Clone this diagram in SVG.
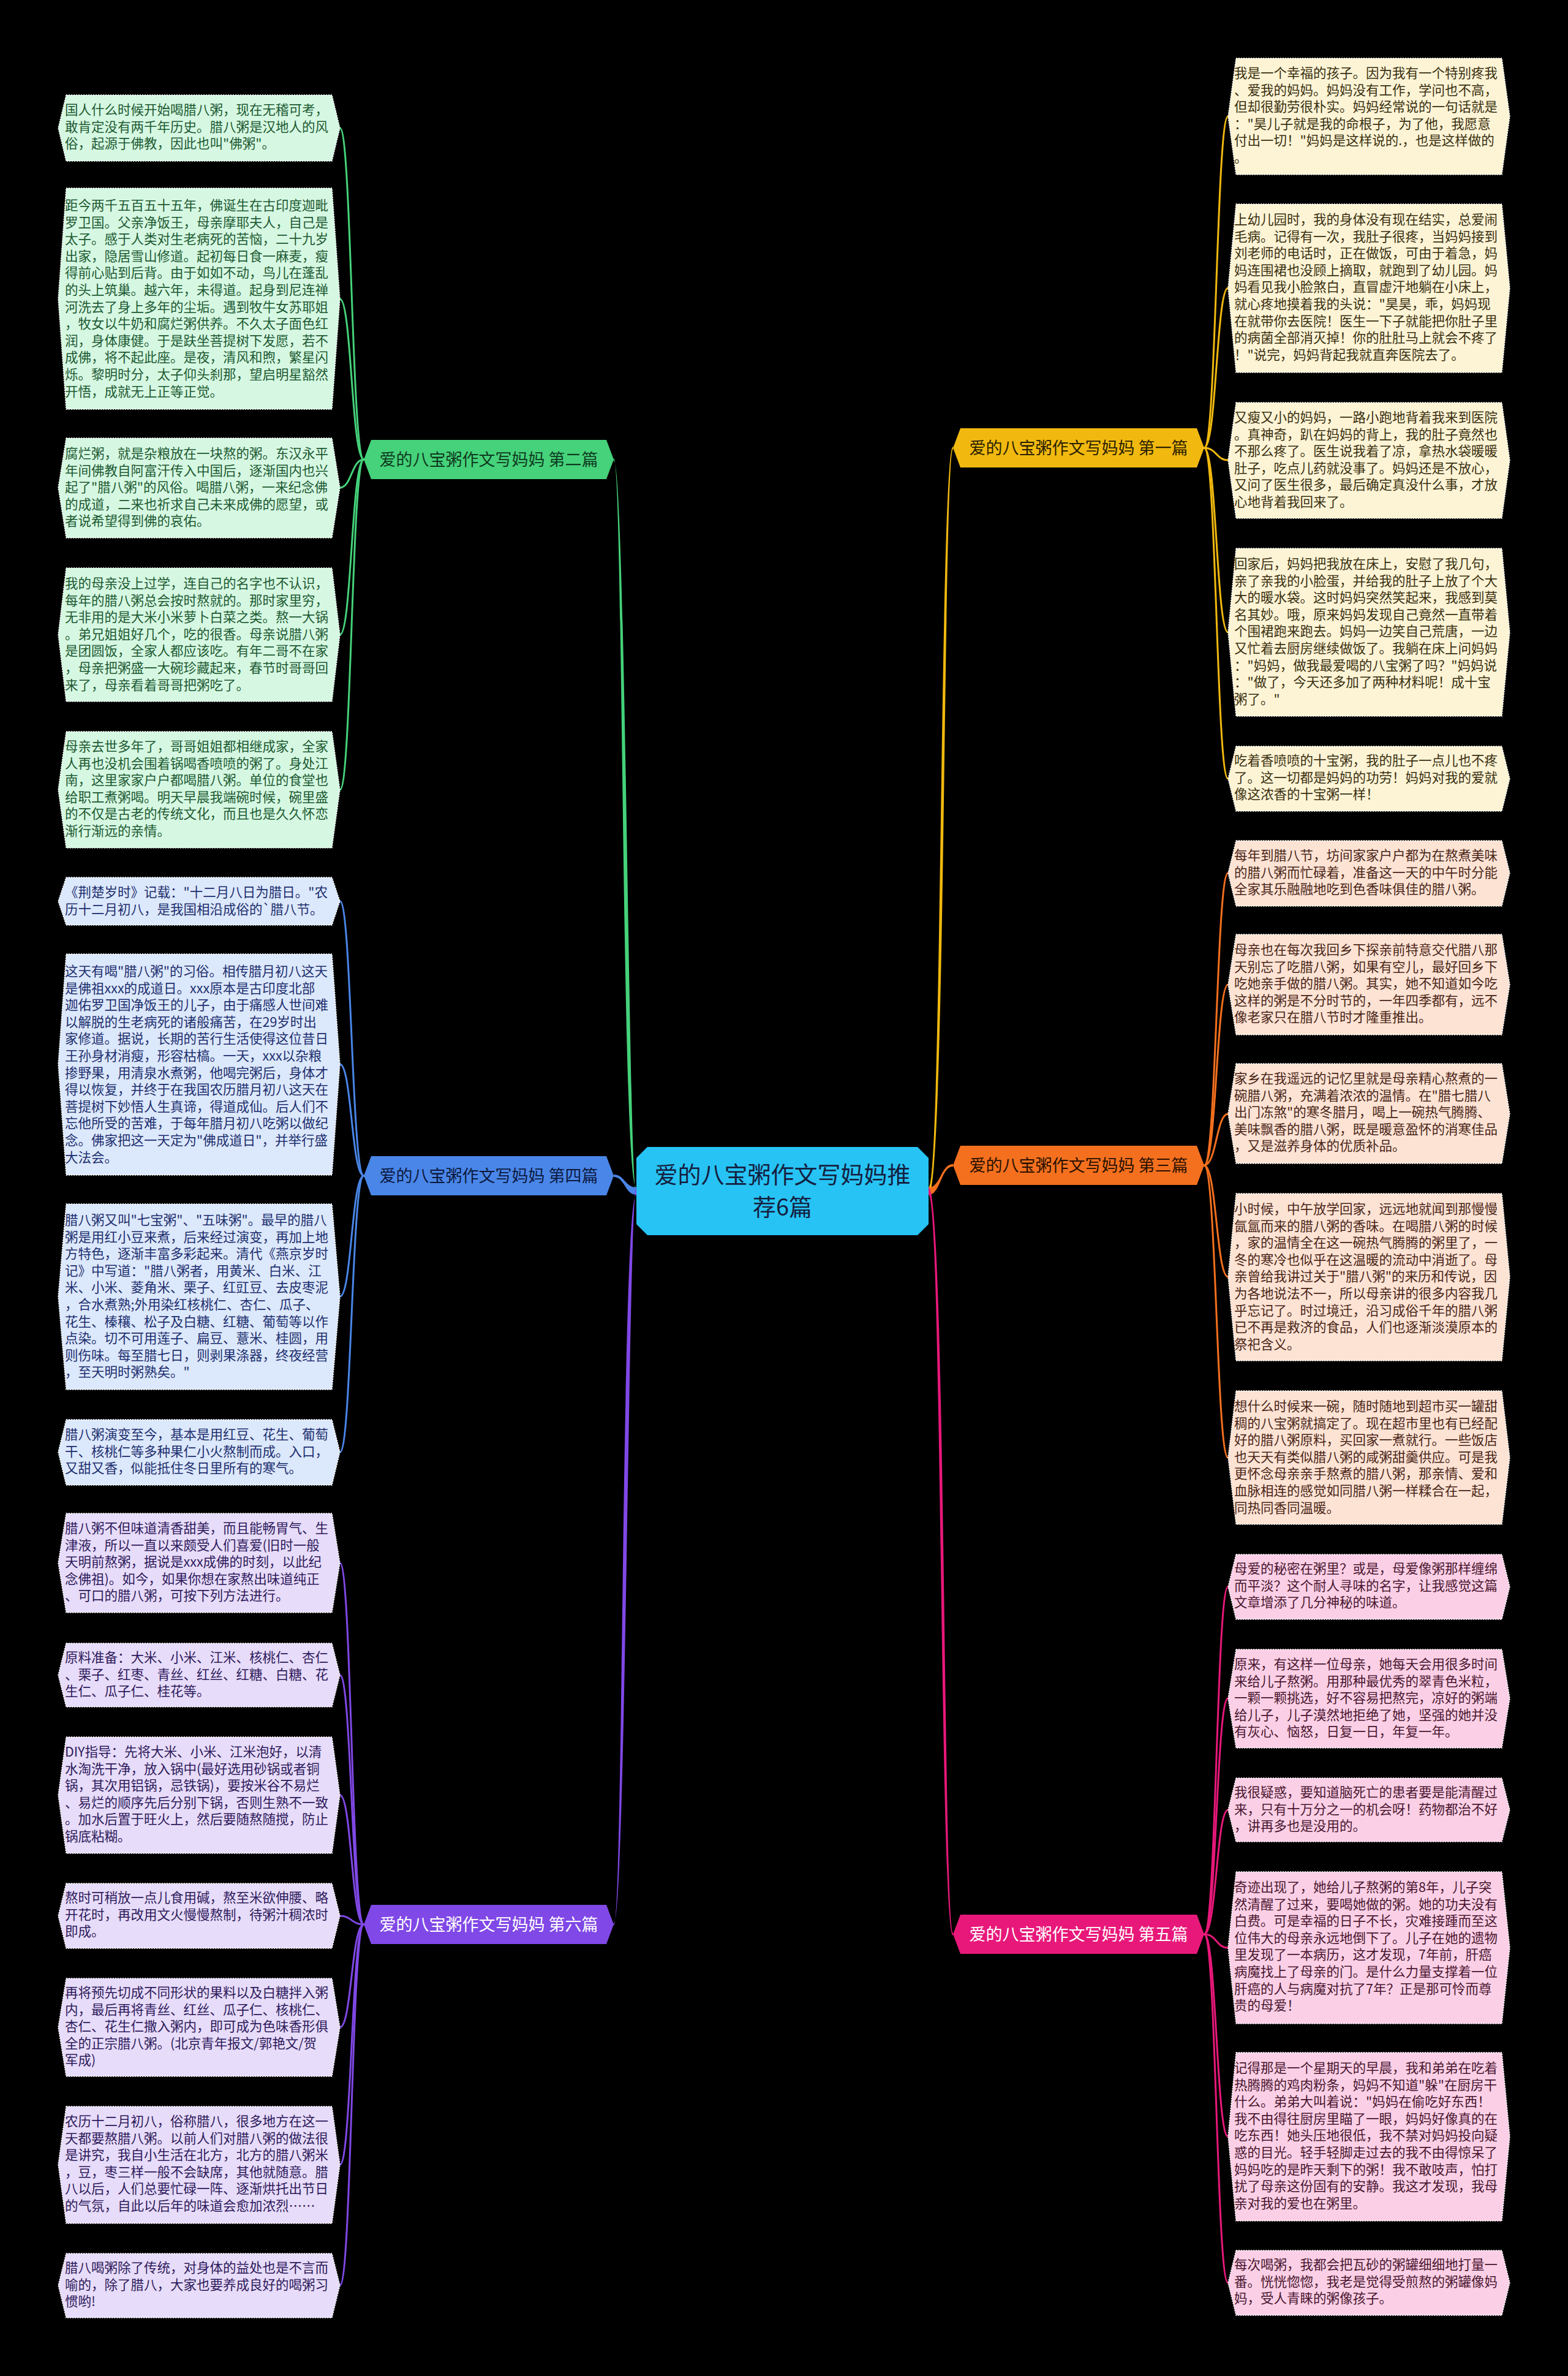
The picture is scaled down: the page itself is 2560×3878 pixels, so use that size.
<svg xmlns="http://www.w3.org/2000/svg" width="2560" height="3878" viewBox="0 0 2560 3878">
<style>
.t{font-family:"Noto Sans CJK SC","Noto Sans",sans-serif;font-size:21.5px}
.tg{fill:#1d5a33}.tb{fill:#1d2f6f}.tp{fill:#2e1a5c}.ty{fill:#3a3010}.to{fill:#4a2618}.tk{fill:#4a1630}
.lg{fill:#d6f8e2}.lb{fill:#dce8fb}.lp{fill:#e7dcf9}.ly{fill:#fdf4d6}.lo{fill:#fde3d4}.lk{fill:#fbd0e6}
.leaf{stroke:#ffffff;stroke-width:1.5;stroke-dasharray:2 2}
.c{fill:none;stroke-linecap:round}
.cg{stroke:#45d27a}.cb{stroke:#4a86e8}.cp{stroke:#8048e6}.cy{stroke:#f1b90f}.co{stroke:#f4701e}.ck{stroke:#e8187a}
.fg{fill:#45d27a}.fb{fill:#4a86e8}.fp{fill:#8048e6}.fy{fill:#f1b90f}.fo{fill:#f4701e}.fk{fill:#e8187a}
.tt{font-family:"Noto Sans CJK SC","Noto Sans",sans-serif;font-size:27px;text-anchor:middle}
.ct{font-family:"Noto Sans CJK SC","Noto Sans",sans-serif;font-size:38px;text-anchor:middle;fill:#142040}
</style>
<rect x="0" y="0" width="2560" height="3878" fill="#000000"/>
<g id="connectors">
<path class="fg" d="M1039 1938 C1014 1938 1018 750 1002 748 L1002 752 C1022 752 1026 1950 1039 1950 Z"/>
<path class="fb" d="M1039 1938 C1020 1938 1020 1917 1002 1917 L1002 1921 C1020 1921 1020 1950 1039 1950 Z"/>
<path class="fp" d="M1039 1938 C1026 1938 1022 3141 1002 3139 L1002 3143 C1018 3143 1014 1950 1039 1950 Z"/>
<path class="fy" d="M1516 1938 C1538 1938 1534 731 1556 729 L1556 733 C1540 733 1544 1950 1516 1950 Z"/>
<path class="fo" d="M1516 1938 C1536 1938 1536 1900 1556 1900 L1556 1904 C1536 1904 1536 1950 1516 1950 Z"/>
<path class="fk" d="M1516 1938 C1544 1938 1540 3157 1556 3155 L1556 3159 C1534 3159 1538 1950 1516 1950 Z"/>
<g stroke-width="3">
<path class="c cg" d="M594 750 C574 750 574 209 555 209"/>
<path class="c cg" d="M594 750 C574 750 574 488 555 488"/>
<path class="c cg" d="M594 750 C574 750 574 796 555 796"/>
<path class="c cg" d="M594 750 C574 750 574 1036 555 1036"/>
<path class="c cg" d="M594 750 C574 750 574 1289 555 1289"/>
<path class="c cb" d="M594 1919 C574 1919 574 1471 555 1471"/>
<path class="c cb" d="M594 1919 C574 1919 574 1737 555 1737"/>
<path class="c cb" d="M594 1919 C574 1919 574 2116 555 2116"/>
<path class="c cb" d="M594 1919 C574 1919 574 2370 555 2370"/>
<path class="c cp" d="M594 3141 C574 3141 574 2551 555 2551"/>
<path class="c cp" d="M594 3141 C574 3141 574 2734 555 2734"/>
<path class="c cp" d="M594 3141 C574 3141 574 2930 555 2930"/>
<path class="c cp" d="M594 3141 C574 3141 574 3127 555 3127"/>
<path class="c cp" d="M594 3141 C574 3141 574 3309 555 3309"/>
<path class="c cp" d="M594 3141 C574 3141 574 3533 555 3533"/>
<path class="c cp" d="M594 3141 C574 3141 574 3730 555 3730"/>
<path class="c cy" d="M1966 731 C1986 731 1986 190 2005 190"/>
<path class="c cy" d="M1966 731 C1986 731 1986 470 2005 470"/>
<path class="c cy" d="M1966 731 C1986 731 1986 751 2005 751"/>
<path class="c cy" d="M1966 731 C1986 731 1986 1032 2005 1032"/>
<path class="c cy" d="M1966 731 C1986 731 1986 1271 2005 1271"/>
<path class="c co" d="M1966 1902 C1986 1902 1986 1425 2005 1425"/>
<path class="c co" d="M1966 1902 C1986 1902 1986 1607 2005 1607"/>
<path class="c co" d="M1966 1902 C1986 1902 1986 1818 2005 1818"/>
<path class="c co" d="M1966 1902 C1986 1902 1986 2084 2005 2084"/>
<path class="c co" d="M1966 1902 C1986 1902 1986 2379 2005 2379"/>
<path class="c ck" d="M1966 3157 C1986 3157 1986 2590 2005 2590"/>
<path class="c ck" d="M1966 3157 C1986 3157 1986 2772 2005 2772"/>
<path class="c ck" d="M1966 3157 C1986 3157 1986 2954 2005 2954"/>
<path class="c ck" d="M1966 3157 C1986 3157 1986 3179 2005 3179"/>
<path class="c ck" d="M1966 3157 C1986 3157 1986 3487 2005 3487"/>
<path class="c ck" d="M1966 3157 C1986 3157 1986 3726 2005 3726"/>
</g>
</g>

<g id="center">
<polygon points="1057,1872 1498,1872 1516,1890 1516,1998 1498,2016 1057,2016 1039,1998 1039,1890" fill="#27c3f4"/>
<text class="ct" x="1277.5" y="1931">爱的八宝粥作文写妈妈推</text>
<text class="ct" x="1277.5" y="1984">荐6篇</text>
</g>

<g id="topic1"><polygon points="1568,699 1954,699 1966,731 1954,763 1568,763 1556,731" fill="#f1b90f"/><text class="tt" x="1761" y="741" fill="#2a2000">爱的八宝粥作文写妈妈 第一篇</text></g>
<g id="topic2"><polygon points="606,718 990,718 1002,750 990,782 606,782 594,750" fill="#45d27a"/><text class="tt" x="798" y="760" fill="#0f3a1e">爱的八宝粥作文写妈妈 第二篇</text></g>
<g id="topic3"><polygon points="1568,1870 1954,1870 1966,1902 1954,1934 1568,1934 1556,1902" fill="#f4701e"/><text class="tt" x="1761" y="1912" fill="#2a1000">爱的八宝粥作文写妈妈 第三篇</text></g>
<g id="topic4"><polygon points="606,1887 990,1887 1002,1919 990,1951 606,1951 594,1919" fill="#4a86e8"/><text class="tt" x="798" y="1929" fill="#0c1a40">爱的八宝粥作文写妈妈 第四篇</text></g>
<g id="topic5"><polygon points="1568,3125 1954,3125 1966,3157 1954,3189 1568,3189 1556,3157" fill="#e8187a"/><text class="tt" x="1761" y="3167" fill="#ffffff">爱的八宝粥作文写妈妈 第五篇</text></g>
<g id="topic6"><polygon points="606,3109 990,3109 1002,3141 990,3173 606,3173 594,3141" fill="#8048e6"/><text class="tt" x="798" y="3151" fill="#ffffff">爱的八宝粥作文写妈妈 第六篇</text></g>

<g id="g1"><polygon class="leaf lg" points="108,155 542,155 555,209 542,263 108,263 95,209"/>
<text class="t tg" x="106" y="187"><tspan x="106">国人什么时候开始喝腊八粥，现在无稽可考，</tspan><tspan x="106" dy="27.6">敢肯定没有两千年历史。腊八粥是汉地人的风</tspan><tspan x="106" dy="27.6">俗，起源于佛教，因此也叫"佛粥"。</tspan></text></g>
<g id="g2"><polygon class="leaf lg" points="108,307 542,307 555,488 542,668 108,668 95,488"/>
<text class="t tg" x="106" y="343"><tspan x="106">距今两千五百五十五年，佛诞生在古印度迦毗</tspan><tspan x="106" dy="27.6">罗卫国。父亲净饭王，母亲摩耶夫人，自己是</tspan><tspan x="106" dy="27.6">太子。感于人类对生老病死的苦恼，二十九岁</tspan><tspan x="106" dy="27.6">出家，隐居雪山修道。起初每日食一麻麦，瘦</tspan><tspan x="106" dy="27.6">得前心贴到后背。由于如如不动，鸟儿在蓬乱</tspan><tspan x="106" dy="27.6">的头上筑巢。越六年，未得道。起身到尼连禅</tspan><tspan x="106" dy="27.6">河洗去了身上多年的尘垢。遇到牧牛女苏耶姐</tspan><tspan x="106" dy="27.6">，牧女以牛奶和腐烂粥供养。不久太子面色红</tspan><tspan x="106" dy="27.6">润，身体康健。于是趺坐菩提树下发愿，若不</tspan><tspan x="106" dy="27.6">成佛，将不起此座。是夜，清风和煦，繁星闪</tspan><tspan x="106" dy="27.6">烁。黎明时分，太子仰头刹那，望启明星豁然</tspan><tspan x="106" dy="27.6">开悟，成就无上正等正觉。</tspan></text></g>
<g id="g3"><polygon class="leaf lg" points="108,715 542,715 555,796 542,878 108,878 95,796"/>
<text class="t tg" x="106" y="748"><tspan x="106">腐烂粥，就是杂粮放在一块熬的粥。东汉永平</tspan><tspan x="106" dy="27.6">年间佛教自阿富汗传入中国后，逐渐国内也兴</tspan><tspan x="106" dy="27.6">起了"腊八粥"的风俗。喝腊八粥，一来纪念佛</tspan><tspan x="106" dy="27.6">的成道，二来也祈求自己未来成佛的愿望，或</tspan><tspan x="106" dy="27.6">者说希望得到佛的哀佑。</tspan></text></g>
<g id="g4"><polygon class="leaf lg" points="108,927 542,927 555,1036 542,1145 108,1145 95,1036"/>
<text class="t tg" x="106" y="960"><tspan x="106">我的母亲没上过学，连自己的名字也不认识，</tspan><tspan x="106" dy="27.6">每年的腊八粥总会按时熬就的。那时家里穷，</tspan><tspan x="106" dy="27.6">无非用的是大米小米萝卜白菜之类。熬一大锅</tspan><tspan x="106" dy="27.6">。弟兄姐姐好几个，吃的很香。母亲说腊八粥</tspan><tspan x="106" dy="27.6">是团圆饭，全家人都应该吃。有年二哥不在家</tspan><tspan x="106" dy="27.6">，母亲把粥盛一大碗珍藏起来，春节时哥哥回</tspan><tspan x="106" dy="27.6">来了，母亲看着哥哥把粥吃了。</tspan></text></g>
<g id="g5"><polygon class="leaf lg" points="108,1194 542,1194 555,1289 542,1384 108,1384 95,1289"/>
<text class="t tg" x="106" y="1226"><tspan x="106">母亲去世多年了，哥哥姐姐都相继成家，全家</tspan><tspan x="106" dy="27.6">人再也没机会围着锅喝香喷喷的粥了。身处江</tspan><tspan x="106" dy="27.6">南，这里家家户户都喝腊八粥。单位的食堂也</tspan><tspan x="106" dy="27.6">给职工煮粥喝。明天早晨我端碗时候，碗里盛</tspan><tspan x="106" dy="27.6">的不仅是古老的传统文化，而且也是久久怀恋</tspan><tspan x="106" dy="27.6">渐行渐远的亲情。</tspan></text></g>

<g id="b1"><polygon class="leaf lb" points="108,1432 542,1432 555,1471 542,1510 108,1510 95,1471"/>
<text class="t tb" x="106" y="1464"><tspan x="106">《荆楚岁时》记载："十二月八日为腊日。"农</tspan><tspan x="106" dy="27.6">历十二月初八，是我国相沿成俗的`腊八节。</tspan></text></g>
<g id="b2"><polygon class="leaf lb" points="108,1557 542,1557 555,1737 542,1918 108,1918 95,1737"/>
<text class="t tb" x="106" y="1593"><tspan x="106">这天有喝"腊八粥"的习俗。相传腊月初八这天</tspan><tspan x="106" dy="27.6">是佛祖xxx的成道日。xxx原本是古印度北部</tspan><tspan x="106" dy="27.6">迦佑罗卫国净饭王的儿子，由于痛感人世间难</tspan><tspan x="106" dy="27.6">以解脱的生老病死的诸般痛苦，在29岁时出</tspan><tspan x="106" dy="27.6">家修道。据说，长期的苦行生活使得这位昔日</tspan><tspan x="106" dy="27.6">王孙身材消瘦，形容枯槁。一天，xxx以杂粮</tspan><tspan x="106" dy="27.6">掺野果，用清泉水煮粥，他喝完粥后，身体才</tspan><tspan x="106" dy="27.6">得以恢复，并终于在我国农历腊月初八这天在</tspan><tspan x="106" dy="27.6">菩提树下妙悟人生真谛，得道成仙。后人们不</tspan><tspan x="106" dy="27.6">忘他所受的苦难，于每年腊月初八吃粥以做纪</tspan><tspan x="106" dy="27.6">念。佛家把这一天定为"佛成道日"，并举行盛</tspan><tspan x="106" dy="27.6">大法会。</tspan></text></g>
<g id="b3"><polygon class="leaf lb" points="108,1965 542,1965 555,2116 542,2268 108,2268 95,2116"/>
<text class="t tb" x="106" y="1999"><tspan x="106">腊八粥又叫"七宝粥"、"五味粥"。最早的腊八</tspan><tspan x="106" dy="27.6">粥是用红小豆来煮，后来经过演变，再加上地</tspan><tspan x="106" dy="27.6">方特色，逐渐丰富多彩起来。清代《燕京岁时</tspan><tspan x="106" dy="27.6">记》中写道："腊八粥者，用黄米、白米、江</tspan><tspan x="106" dy="27.6">米、小米、菱角米、栗子、红豇豆、去皮枣泥</tspan><tspan x="106" dy="27.6">，合水煮熟;外用染红核桃仁、杏仁、瓜子、</tspan><tspan x="106" dy="27.6">花生、榛穰、松子及白糖、红糖、葡萄等以作</tspan><tspan x="106" dy="27.6">点染。切不可用莲子、扁豆、薏米、桂圆，用</tspan><tspan x="106" dy="27.6">则伤味。每至腊七日，则剥果涤器，终夜经营</tspan><tspan x="106" dy="27.6">，至天明时粥熟矣。"</tspan></text></g>
<g id="b4"><polygon class="leaf lb" points="108,2317 542,2317 555,2370 542,2424 108,2424 95,2370"/>
<text class="t tb" x="106" y="2349"><tspan x="106">腊八粥演变至今，基本是用红豆、花生、葡萄</tspan><tspan x="106" dy="27.6">干、核桃仁等多种果仁小火熬制而成。入口，</tspan><tspan x="106" dy="27.6">又甜又香，似能抵住冬日里所有的寒气。</tspan></text></g>

<g id="p1"><polygon class="leaf lp" points="108,2470 542,2470 555,2551 542,2632 108,2632 95,2551"/>
<text class="t tp" x="106" y="2502"><tspan x="106">腊八粥不但味道清香甜美，而且能畅胃气、生</tspan><tspan x="106" dy="27.6">津液，所以一直以来颇受人们喜爱(旧时一般</tspan><tspan x="106" dy="27.6">天明前熬粥，据说是xxx成佛的时刻，以此纪</tspan><tspan x="106" dy="27.6">念佛祖)。如今，如果你想在家熬出味道纯正</tspan><tspan x="106" dy="27.6">、可口的腊八粥，可按下列方法进行。</tspan></text></g>
<g id="p2"><polygon class="leaf lp" points="108,2682 542,2682 555,2734 542,2786 108,2786 95,2734"/>
<text class="t tp" x="106" y="2713"><tspan x="106">原料准备：大米、小米、江米、核桃仁、杏仁</tspan><tspan x="106" dy="27.6">、栗子、红枣、青丝、红丝、红糖、白糖、花</tspan><tspan x="106" dy="27.6">生仁、瓜子仁、桂花等。</tspan></text></g>
<g id="p3"><polygon class="leaf lp" points="108,2835 542,2835 555,2930 542,3025 108,3025 95,2930"/>
<text class="t tp" x="106" y="2867"><tspan x="106">DIY指导：先将大米、小米、江米泡好，以清</tspan><tspan x="106" dy="27.6">水淘洗干净，放入锅中(最好选用砂锅或者铜</tspan><tspan x="106" dy="27.6">锅，其次用铝锅，忌铁锅)，要按米谷不易烂</tspan><tspan x="106" dy="27.6">、易烂的顺序先后分别下锅，否则生熟不一致</tspan><tspan x="106" dy="27.6">。加水后置于旺火上，然后要随熬随搅，防止</tspan><tspan x="106" dy="27.6">锅底粘糊。</tspan></text></g>
<g id="p4"><polygon class="leaf lp" points="108,3074 542,3074 555,3127 542,3180 108,3180 95,3127"/>
<text class="t tp" x="106" y="3105"><tspan x="106">熬时可稍放一点儿食用碱，熬至米欲伸腰、略</tspan><tspan x="106" dy="27.6">开花时，再改用文火慢慢熬制，待粥汁稠浓时</tspan><tspan x="106" dy="27.6">即成。</tspan></text></g>
<g id="p5"><polygon class="leaf lp" points="108,3229 542,3229 555,3309 542,3389 108,3389 95,3309"/>
<text class="t tp" x="106" y="3260"><tspan x="106">再将预先切成不同形状的果料以及白糖拌入粥</tspan><tspan x="106" dy="27.6">内，最后再将青丝、红丝、瓜子仁、核桃仁、</tspan><tspan x="106" dy="27.6">杏仁、花生仁撒入粥内，即可成为色味香形俱</tspan><tspan x="106" dy="27.6">全的正宗腊八粥。(北京青年报文/郭艳文/贺</tspan><tspan x="106" dy="27.6">军成)</tspan></text></g>
<g id="p6"><polygon class="leaf lp" points="108,3438 542,3438 555,3533 542,3629 108,3629 95,3533"/>
<text class="t tp" x="106" y="3470"><tspan x="106">农历十二月初八，俗称腊八，很多地方在这一</tspan><tspan x="106" dy="27.6">天都要熬腊八粥。以前人们对腊八粥的做法很</tspan><tspan x="106" dy="27.6">是讲究，我自小生活在北方，北方的腊八粥米</tspan><tspan x="106" dy="27.6">，豆，枣三样一般不会缺席，其他就随意。腊</tspan><tspan x="106" dy="27.6">八以后，人们总要忙碌一阵、逐渐烘托出节日</tspan><tspan x="106" dy="27.6">的气氛，自此以后年的味道会愈加浓烈……</tspan></text></g>
<g id="p7"><polygon class="leaf lp" points="108,3678 542,3678 555,3730 542,3783 108,3783 95,3730"/>
<text class="t tp" x="106" y="3709"><tspan x="106">腊八喝粥除了传统，对身体的益处也是不言而</tspan><tspan x="106" dy="27.6">喻的，除了腊八，大家也要养成良好的喝粥习</tspan><tspan x="106" dy="27.6">惯哟!</tspan></text></g>

<g id="y1"><polygon class="leaf ly" points="2018,95 2452,95 2465,190 2452,285 2018,285 2005,190"/>
<text class="t ty" x="2015" y="127"><tspan x="2015">我是一个幸福的孩子。因为我有一个特别疼我</tspan><tspan x="2015" dy="27.6">、爱我的妈妈。妈妈没有工作，学问也不高，</tspan><tspan x="2015" dy="27.6">但却很勤劳很朴实。妈妈经常说的一句话就是</tspan><tspan x="2015" dy="27.6">："昊儿子就是我的命根子，为了他，我愿意</tspan><tspan x="2015" dy="27.6">付出一切！"妈妈是这样说的.，也是这样做的</tspan><tspan x="2015" dy="27.6">。</tspan></text></g>
<g id="y2"><polygon class="leaf ly" points="2018,333 2452,333 2465,470 2452,608 2018,608 2005,470"/>
<text class="t ty" x="2015" y="366"><tspan x="2015">上幼儿园时，我的身体没有现在结实，总爱闹</tspan><tspan x="2015" dy="27.6">毛病。记得有一次，我肚子很疼，当妈妈接到</tspan><tspan x="2015" dy="27.6">刘老师的电话时，正在做饭，可由于着急，妈</tspan><tspan x="2015" dy="27.6">妈连围裙也没顾上摘取，就跑到了幼儿园。妈</tspan><tspan x="2015" dy="27.6">妈看见我小脸煞白，直冒虚汗地躺在小床上，</tspan><tspan x="2015" dy="27.6">就心疼地摸着我的头说："昊昊，乖，妈妈现</tspan><tspan x="2015" dy="27.6">在就带你去医院！医生一下子就能把你肚子里</tspan><tspan x="2015" dy="27.6">的病菌全部消灭掉！你的肚肚马上就会不疼了</tspan><tspan x="2015" dy="27.6">！"说完，妈妈背起我就直奔医院去了。</tspan></text></g>
<g id="y3"><polygon class="leaf ly" points="2018,657 2452,657 2465,751 2452,846 2018,846 2005,751"/>
<text class="t ty" x="2015" y="689"><tspan x="2015">又瘦又小的妈妈，一路小跑地背着我来到医院</tspan><tspan x="2015" dy="27.6">。真神奇，趴在妈妈的背上，我的肚子竟然也</tspan><tspan x="2015" dy="27.6">不那么疼了。医生说我着了凉，拿热水袋暖暖</tspan><tspan x="2015" dy="27.6">肚子，吃点儿药就没事了。妈妈还是不放心，</tspan><tspan x="2015" dy="27.6">又问了医生很多，最后确定真没什么事，才放</tspan><tspan x="2015" dy="27.6">心地背着我回来了。</tspan></text></g>
<g id="y4"><polygon class="leaf ly" points="2018,895 2452,895 2465,1032 2452,1169 2018,1169 2005,1032"/>
<text class="t ty" x="2015" y="928"><tspan x="2015">回家后，妈妈把我放在床上，安慰了我几句，</tspan><tspan x="2015" dy="27.6">亲了亲我的小脸蛋，并给我的肚子上放了个大</tspan><tspan x="2015" dy="27.6">大的暖水袋。这时妈妈突然笑起来，我感到莫</tspan><tspan x="2015" dy="27.6">名其妙。哦，原来妈妈发现自己竟然一直带着</tspan><tspan x="2015" dy="27.6">个围裙跑来跑去。妈妈一边笑自己荒唐，一边</tspan><tspan x="2015" dy="27.6">又忙着去厨房继续做饭了。我躺在床上问妈妈</tspan><tspan x="2015" dy="27.6">："妈妈，做我最爱喝的八宝粥了吗？"妈妈说</tspan><tspan x="2015" dy="27.6">："做了，今天还多加了两种材料呢！成十宝</tspan><tspan x="2015" dy="27.6">粥了。"</tspan></text></g>
<g id="y5"><polygon class="leaf ly" points="2018,1218 2452,1218 2465,1271 2452,1324 2018,1324 2005,1271"/>
<text class="t ty" x="2015" y="1249"><tspan x="2015">吃着香喷喷的十宝粥，我的肚子一点儿也不疼</tspan><tspan x="2015" dy="27.6">了。这一切都是妈妈的功劳！妈妈对我的爱就</tspan><tspan x="2015" dy="27.6">像这浓香的十宝粥一样！</tspan></text></g>

<g id="o1"><polygon class="leaf lo" points="2018,1372 2452,1372 2465,1425 2452,1479 2018,1479 2005,1425"/>
<text class="t to" x="2015" y="1404"><tspan x="2015">每年到腊八节，坊间家家户户都为在熬煮美味</tspan><tspan x="2015" dy="27.6">的腊八粥而忙碌着，准备这一天的中午时分能</tspan><tspan x="2015" dy="27.6">全家其乐融融地吃到色香味俱佳的腊八粥。</tspan></text></g>
<g id="o2"><polygon class="leaf lo" points="2018,1525 2452,1525 2465,1607 2452,1689 2018,1689 2005,1607"/>
<text class="t to" x="2015" y="1558"><tspan x="2015">母亲也在每次我回乡下探亲前特意交代腊八那</tspan><tspan x="2015" dy="27.6">天别忘了吃腊八粥，如果有空儿，最好回乡下</tspan><tspan x="2015" dy="27.6">吃她亲手做的腊八粥。其实，她不知道如今吃</tspan><tspan x="2015" dy="27.6">这样的粥是不分时节的，一年四季都有，远不</tspan><tspan x="2015" dy="27.6">像老家只在腊八节时才隆重推出。</tspan></text></g>
<g id="o3"><polygon class="leaf lo" points="2018,1736 2452,1736 2465,1818 2452,1899 2018,1899 2005,1818"/>
<text class="t to" x="2015" y="1768"><tspan x="2015">家乡在我遥远的记忆里就是母亲精心熬煮的一</tspan><tspan x="2015" dy="27.6">碗腊八粥，充满着浓浓的温情。在"腊七腊八</tspan><tspan x="2015" dy="27.6">出门冻煞"的寒冬腊月，喝上一碗热气腾腾、</tspan><tspan x="2015" dy="27.6">美味飘香的腊八粥，既是暖意盈怀的消寒佳品</tspan><tspan x="2015" dy="27.6">，又是滋养身体的优质补品。</tspan></text></g>
<g id="o4"><polygon class="leaf lo" points="2018,1948 2452,1948 2465,2084 2452,2221 2018,2221 2005,2084"/>
<text class="t to" x="2015" y="1981"><tspan x="2015">小时候，中午放学回家，远远地就闻到那慢慢</tspan><tspan x="2015" dy="27.6">氤氲而来的腊八粥的香味。在喝腊八粥的时候</tspan><tspan x="2015" dy="27.6">，家的温情全在这一碗热气腾腾的粥里了，一</tspan><tspan x="2015" dy="27.6">冬的寒冷也似乎在这温暖的流动中消逝了。母</tspan><tspan x="2015" dy="27.6">亲曾给我讲过关于"腊八粥"的来历和传说，因</tspan><tspan x="2015" dy="27.6">为各地说法不一，所以母亲讲的很多内容我几</tspan><tspan x="2015" dy="27.6">乎忘记了。时过境迁，沿习成俗千年的腊八粥</tspan><tspan x="2015" dy="27.6">已不再是救济的食品，人们也逐渐淡漠原本的</tspan><tspan x="2015" dy="27.6">祭祀含义。</tspan></text></g>
<g id="o5"><polygon class="leaf lo" points="2018,2270 2452,2270 2465,2379 2452,2488 2018,2488 2005,2379"/>
<text class="t to" x="2015" y="2303"><tspan x="2015">想什么时候来一碗，随时随地到超市买一罐甜</tspan><tspan x="2015" dy="27.6">稠的八宝粥就搞定了。现在超市里也有已经配</tspan><tspan x="2015" dy="27.6">好的腊八粥原料，买回家一煮就行。一些饭店</tspan><tspan x="2015" dy="27.6">也天天有类似腊八粥的咸粥甜羹供应。可是我</tspan><tspan x="2015" dy="27.6">更怀念母亲亲手熬煮的腊八粥，那亲情、爱和</tspan><tspan x="2015" dy="27.6">血脉相连的感觉如同腊八粥一样糅合在一起，</tspan><tspan x="2015" dy="27.6">同热同香同温暖。</tspan></text></g>

<g id="k1"><polygon class="leaf lk" points="2018,2537 2452,2537 2465,2590 2452,2643 2018,2643 2005,2590"/>
<text class="t tk" x="2015" y="2568"><tspan x="2015">母爱的秘密在粥里？或是，母爱像粥那样缠绵</tspan><tspan x="2015" dy="27.6">而平淡？这个耐人寻味的名字，让我感觉这篇</tspan><tspan x="2015" dy="27.6">文章增添了几分神秘的味道。</tspan></text></g>
<g id="k2"><polygon class="leaf lk" points="2018,2692 2452,2692 2465,2772 2452,2853 2018,2853 2005,2772"/>
<text class="t tk" x="2015" y="2724"><tspan x="2015">原来，有这样一位母亲，她每天会用很多时间</tspan><tspan x="2015" dy="27.6">来给儿子熬粥。用那种最优秀的翠青色米粒，</tspan><tspan x="2015" dy="27.6">一颗一颗挑选，好不容易把熬完，凉好的粥端</tspan><tspan x="2015" dy="27.6">给儿子，儿子漠然地拒绝了她，坚强的她并没</tspan><tspan x="2015" dy="27.6">有灰心、恼怒，日复一日，年复一年。</tspan></text></g>
<g id="k3"><polygon class="leaf lk" points="2018,2902 2452,2902 2465,2954 2452,3006 2018,3006 2005,2954"/>
<text class="t tk" x="2015" y="2933"><tspan x="2015">我很疑惑，要知道脑死亡的患者要是能清醒过</tspan><tspan x="2015" dy="27.6">来，只有十万分之一的机会呀！药物都治不好</tspan><tspan x="2015" dy="27.6">，讲再多也是没用的。</tspan></text></g>
<g id="k4"><polygon class="leaf lk" points="2018,3055 2452,3055 2465,3179 2452,3303 2018,3303 2005,3179"/>
<text class="t tk" x="2015" y="3088"><tspan x="2015">奇迹出现了，她给儿子熬粥的第8年，儿子突</tspan><tspan x="2015" dy="27.6">然清醒了过来，要喝她做的粥。她的功夫没有</tspan><tspan x="2015" dy="27.6">白费。可是幸福的日子不长，灾难接踵而至这</tspan><tspan x="2015" dy="27.6">位伟大的母亲永远地倒下了。儿子在她的遗物</tspan><tspan x="2015" dy="27.6">里发现了一本病历，这才发现，7年前，肝癌</tspan><tspan x="2015" dy="27.6">病魔找上了母亲的门。是什么力量支撑着一位</tspan><tspan x="2015" dy="27.6">肝癌的人与病魔对抗了7年？正是那可怜而尊</tspan><tspan x="2015" dy="27.6">贵的母爱！</tspan></text></g>
<g id="k5"><polygon class="leaf lk" points="2018,3350 2452,3350 2465,3487 2452,3625 2018,3625 2005,3487"/>
<text class="t tk" x="2015" y="3383"><tspan x="2015">记得那是一个星期天的早晨，我和弟弟在吃着</tspan><tspan x="2015" dy="27.6">热腾腾的鸡肉粉条，妈妈不知道"躲"在厨房干</tspan><tspan x="2015" dy="27.6">什么。弟弟大叫着说："妈妈在偷吃好东西！</tspan><tspan x="2015" dy="27.6">我不由得往厨房里瞄了一眼，妈妈好像真的在</tspan><tspan x="2015" dy="27.6">吃东西！她头压地很低，我不禁对妈妈投向疑</tspan><tspan x="2015" dy="27.6">惑的目光。轻手轻脚走过去的我不由得惊呆了</tspan><tspan x="2015" dy="27.6">妈妈吃的是昨天剩下的粥！我不敢吱声，怕打</tspan><tspan x="2015" dy="27.6">扰了母亲这份固有的安静。我这才发现，我母</tspan><tspan x="2015" dy="27.6">亲对我的爱也在粥里。</tspan></text></g>
<g id="k6"><polygon class="leaf lk" points="2018,3673 2452,3673 2465,3726 2452,3779 2018,3779 2005,3726"/>
<text class="t tk" x="2015" y="3704"><tspan x="2015">每次喝粥，我都会把瓦砂的粥罐细细地打量一</tspan><tspan x="2015" dy="27.6">番。恍恍惚惚，我老是觉得受煎熬的粥罐像妈</tspan><tspan x="2015" dy="27.6">妈，受人青睐的粥像孩子。</tspan></text></g>
</svg>
